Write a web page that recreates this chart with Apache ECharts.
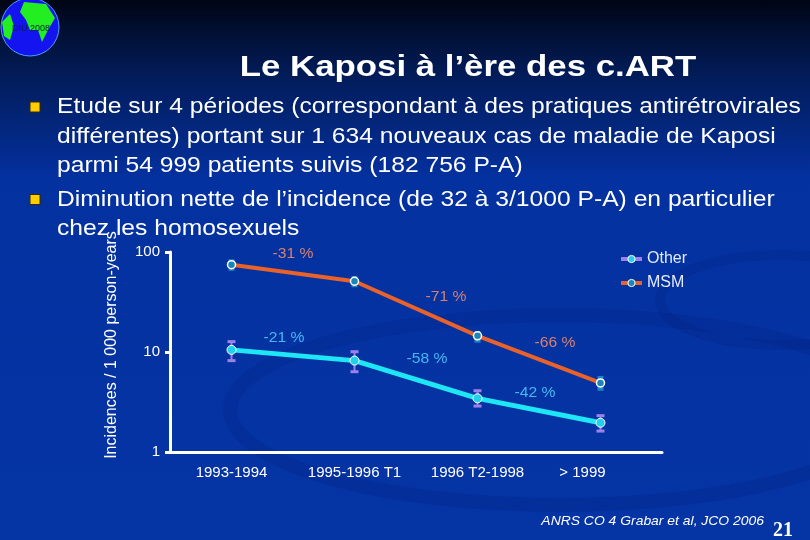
<!DOCTYPE html>
<html>
<head>
<meta charset="utf-8">
<script src="https://cdn.jsdelivr.net/npm/echarts@6/dist/echarts.min.js"></script>
<style>
  html, body { margin: 0; padding: 0; }
  body { width: 810px; height: 540px; overflow: hidden;
    background: linear-gradient(180deg, #000514 0%, #021b56 13%, #0431a0 33%, #0534a4 100%); }
  #main { width: 810px; height: 540px; }
</style>
</head>
<body>
<div id="main"></div>
<script>
// periods
const periods = ['1993-1994', '1995-1996 T1', '1996 T2-1998', '> 1999']
// incidence per 1000 person-years
const msm = [74.7, 51, 14.5, 4.9]
const msmLow = [65, 44.4, 12.4, 4.1]
const msmHigh = [84.5, 57.5, 16.2, 5.75]
const other = [10.5, 8.2, 3.44, 1.96]
const otherLow = [8.2, 6.35, 2.88, 1.62]
const otherHigh = [12.7, 10.07, 4.1, 2.31]
const yTicks = [1, 10, 100]

const bullets = [
  ['Etude sur 4 périodes (correspondant à des pratiques antirétrovirales',
   'différentes) portant sur 1 634 nouveaux cas de maladie de Kaposi',
   'parmi 54 999 patients suivis (182 756 P-A)'],
  ['Diminution nette de l\u2019incidence (de 32 à 3/1000 P-A) en particulier',
   'chez les homosexuels']
]

const font = 'Liberation Sans, Arial, sans-serif'
const stretch = 1.12 // the slide is drawn a bit wide

function errorBars(low, high, color, kind) {
  return {
    type: 'custom',
    z: 2,
    silent: true,
    data: low.map((v, i) => [i, v, high[i]]),
    renderItem: (params, api) => {
      let a = api.coord([api.value(0), api.value(1)])
      let b = api.coord([api.value(0), api.value(2)])
      if (kind === 'block') {
        return {
          type: 'rect',
          shape: { x: a[0] - 3, y: b[1], width: 6, height: a[1] - b[1] },
          style: { fill: color }
        }
      }
      return {
        type: 'group',
        children: [
          { type: 'line', shape: { x1: a[0], y1: a[1], x2: b[0], y2: b[1] }, style: { stroke: color, lineWidth: 2 } },
          { type: 'line', shape: { x1: a[0] - 4, y1: a[1], x2: a[0] + 4, y2: a[1] }, style: { stroke: color, lineWidth: 3 } },
          { type: 'line', shape: { x1: b[0] - 4, y1: b[1], x2: b[0] + 4, y2: b[1] }, style: { stroke: color, lineWidth: 3 } }
        ]
      }
    }
  }
}

function bulletGraphics() {
  let out = []
  let y = 107
  bullets.forEach((lines) => {
    out.push({ type: 'rect', shape: { x: 30, y: y - 5, width: 10, height: 10 },
      style: { fill: '#ffcc00', stroke: '#3a2a00', lineWidth: 1 } })
    lines.forEach((t) => {
      out.push({ type: 'text', x: 57, y: y, scaleX: stretch,
        style: { text: t, fill: '#fff', font: '22px ' + font, textVerticalAlign: 'middle' } })
      y += 29.5
    })
    y += 4
  })
  return out
}

const annotations = [
  ['-31 %', 293, 254, '#d8806e'], ['-71 %', 446, 297, '#d8806e'], ['-66 %', 555, 343, '#d8806e'],
  ['-21 %', 284, 338, '#45b8f0'], ['-58 %', 427, 359, '#45b8f0'], ['-42 %', 535, 393, '#45b8f0']
]

var chart = echarts.init(document.getElementById('main'))

let option = {
  backgroundColor: 'transparent',
  textStyle: { fontFamily: font },
  grid: { left: 170, right: 148, top: 252, bottom: 88 },
  legend: {
    orient: 'vertical', left: 614, top: 246, itemGap: 8,
    itemWidth: 21, itemHeight: 9,
    textStyle: { color: '#e4ebff', fontSize: 16 },
    data: [
      { name: 'Other', itemStyle: { color: '#21d0ea', borderColor: '#fff', borderWidth: 1 }, lineStyle: { color: '#9d80ea', width: 4 } },
      { name: 'MSM', itemStyle: { color: '#1b84b8', borderColor: '#fff', borderWidth: 1 }, lineStyle: { color: '#e8622a', width: 4 } }
    ]
  },
  xAxis: {
    type: 'category',
    data: periods.map((p, i) => i === 3 ? { value: p, textStyle: { padding: [0, 36, 0, 0] } } : p),
    boundaryGap: true,
    axisLine: { lineStyle: { color: '#fff', width: 3 } },
    axisTick: { lineStyle: { color: '#fff', width: 3 }, length: 6 },
    axisLabel: { color: '#fff', fontSize: 15, margin: 13 }
  },
  yAxis: {
    type: 'log', logBase: 10, min: yTicks[0], max: yTicks[2],
    name: 'Incidences / 1 000 person-years',
    nameLocation: 'middle', nameGap: 50, nameRotate: 90,
    nameTextStyle: { color: '#fff', fontSize: 16, padding: [0, 0, 0, 14] },
    axisLine: { show: true, lineStyle: { color: '#fff', width: 3 } },
    axisTick: { show: true, lineStyle: { color: '#fff', width: 3 }, length: 5 },
    splitLine: { show: false },
    axisLabel: { color: '#fff', fontSize: 15, margin: 10 }
  },
  series: [
    errorBars(msmLow, msmHigh, '#1b86c4', 'block'),
    errorBars(otherLow, otherHigh, '#9d80ea', 'bar'),
    {
      name: 'MSM', type: 'line', data: msm, z: 3,
      symbol: 'circle', symbolSize: 8,
      lineStyle: { color: '#e8622a', width: 4 },
      itemStyle: { color: '#1b84b8', borderColor: '#fff', borderWidth: 1.5 }
    },
    {
      name: 'Other', type: 'line', data: other, z: 3,
      symbol: 'circle', symbolSize: 9,
      lineStyle: { color: '#1ee6f5', width: 5 },
      itemStyle: { color: '#21d0ea', borderColor: '#fff', borderWidth: 1 }
    }
  ],
  graphic: [
    // faint swooshes of the slide template
    { type: 'ellipse', z: -10, silent: true, shape: { cx: 560, cy: 410, rx: 330, ry: 95 },
      style: { fill: 'none', stroke: 'rgba(0,20,100,0.14)', lineWidth: 14 } },
    { type: 'ellipse', z: -10, silent: true, shape: { cx: 780, cy: 300, rx: 120, ry: 45 },
      style: { fill: 'none', stroke: 'rgba(0,20,100,0.14)', lineWidth: 10 } },
    // globe logo
    { type: 'circle', shape: { cx: 30, cy: 27, r: 29 }, style: { fill: '#1414f0', stroke: '#4aa0ff', lineWidth: 1 } },
    { type: 'polygon', shape: { points: [[24, 2], [46, 4], [55, 18], [48, 30], [42, 42], [38, 30], [30, 30], [26, 20], [20, 12]] }, style: { fill: '#22ee22' } },
    { type: 'polygon', shape: { points: [[2, 22], [10, 14], [14, 26], [10, 40], [4, 36]] }, style: { fill: '#22ee22' } },
    { type: 'text', x: 31, y: 29, style: { text: 'DIU 2008', fill: '#102040', font: '9px ' + font, textAlign: 'center', textVerticalAlign: 'middle' } },
    // title
    { type: 'text', x: 468, y: 68, scaleX: 1.16, style: { text: 'Le Kaposi à l\u2019ère des c.ART', fill: '#fff', font: 'bold 30px ' + font, textAlign: 'center', textVerticalAlign: 'middle' } },
    ...bulletGraphics(),
    ...annotations.map(a => ({ type: 'text', x: a[1], y: a[2], z: 5, scaleX: stretch,
      style: { text: a[0], fill: a[3], font: '14px ' + font, textAlign: 'center', textVerticalAlign: 'middle' } })),
    { type: 'text', x: 764, y: 521, scaleX: 1.07, style: { text: 'ANRS CO 4 Grabar et al, JCO 2006', fill: '#fff', font: 'italic 13px ' + font, textAlign: 'right', textVerticalAlign: 'middle' } },
    { type: 'text', x: 783, y: 531, style: { text: '21', fill: '#fff', font: 'bold 20px Liberation Serif, Times New Roman, serif', textAlign: 'center', textVerticalAlign: 'middle' } }
  ]
}

chart.setOption(option)
</script>
</body>
</html>
